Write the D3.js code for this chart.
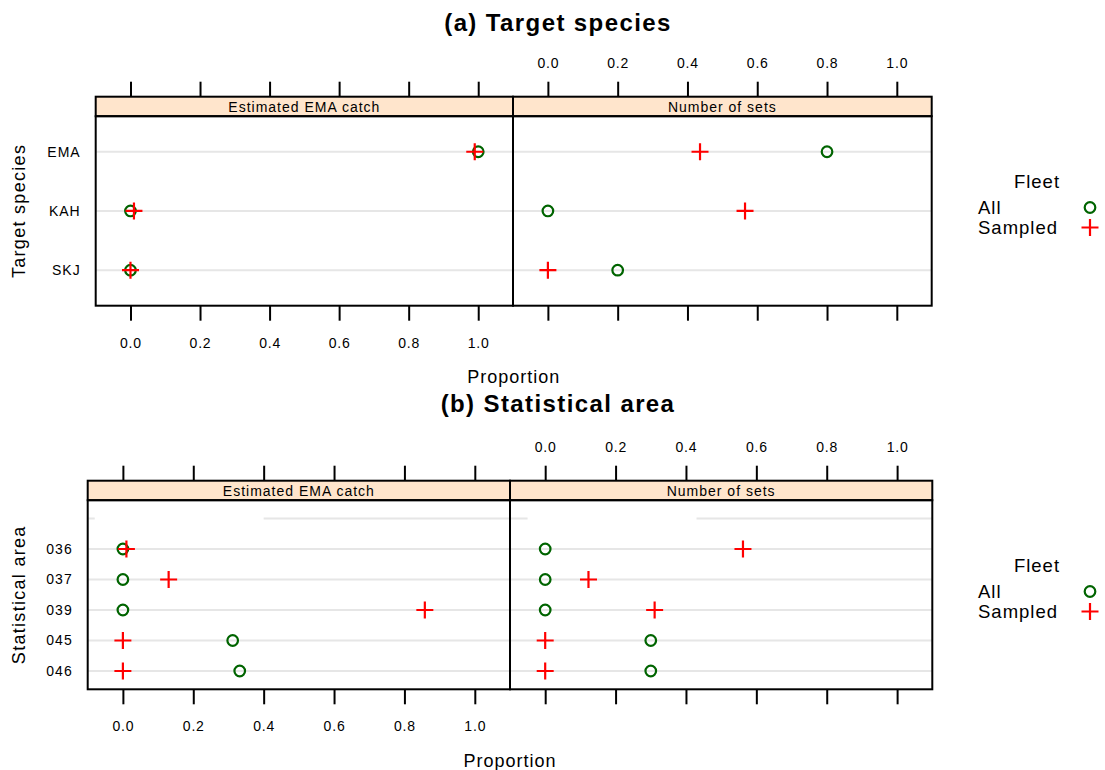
<!DOCTYPE html>
<html>
<head>
<meta charset="utf-8">
<script src="https://cdn.jsdelivr.net/npm/d3@7"></script>
<style>
  body { margin: 0; background: #fff; }
  text { font-family: "Liberation Sans", Arial, sans-serif; fill: #000; }
</style>
</head>
<body>
<svg id="chart" width="1105" height="770"></svg>
<script>
// panel names (strips)
const panels = ["Estimated EMA catch", "Number of sets"];
const xTicks = [0, 0.2, 0.4, 0.6, 0.8, 1.0];

// (a) target species, listed top to bottom
const speciesLevels = ["EMA", "KAH", "SKJ"];
const speciesAllCatch = [1.0, 0.0, 0.0];
const speciesSampledCatch = [0.99, 0.01, 0.0];
const speciesAllSets = [0.80, 0.0, 0.20];
const speciesSampledSets = [0.436, 0.565, 0.0];

// (b) statistical area, listed top to bottom ("" is an empty level)
const areaLevels = ["", "036", "037", "039", "045", "046"];
const areaAllCatch = [null, 0.0, 0.0, 0.0, 0.312, 0.332];
const areaSampledCatch = [null, 0.01, 0.13, 0.858, 0.0, 0.0];
const areaAllSets = [null, 0.0, 0.0, 0.0, 0.30, 0.30];
const areaSampledSets = [null, 0.562, 0.123, 0.311, 0.0, 0.0];
// the empty level's reference line is partly hidden in the original
const areaBlankGap = [[-0.08, 0.40], [-0.05, 0.43]];

const legendLabels = ["All", "Sampled"];

const colorAll = "#006400";
const colorSampled = "#ff0000";

var svg = d3.select("#chart");

/**
 * Small text helper: sets size and letter spacing.
 */
function styleText(sel, size, spacing) {
  return sel.style("font-size", size + "px")
    .style("letter-spacing", spacing + "px");
}

/**
 * Draws one block: title, two panels with strips, axes, legend.
 */
function drawBlock(cfg) {
  var g = svg.append("g");

  var x0 = cfg.left, x1 = cfg.mid, x2 = cfg.right;
  var stripTop = cfg.top, stripBottom = cfg.top + 19.5, bottom = cfg.bottom;

  var y = d3.scalePoint()
    .domain(cfg.levels)
    .range([stripBottom, bottom])
    .padding(0.6);

  var xs = [
    d3.scaleLinear().domain([-0.1, 1.1]).range([x0, x1]),
    d3.scaleLinear().domain([-0.1, 1.1]).range([x1, x2])
  ];

  // title
  styleText(g.append("text")
    .attr("x", cfg.titleX)
    .attr("y", cfg.titleY)
    .attr("text-anchor", "middle")
    .style("font-weight", "bold")
    .text(cfg.title), 24, 1.4);

  xs.forEach(function(x, p) {
    var pg = g.append("g");
    var clipId = "clip" + cfg.id + p;
    pg.append("clipPath").attr("id", clipId)
      .append("rect")
      .attr("x", x.range()[0]).attr("y", stripBottom)
      .attr("width", x.range()[1] - x.range()[0])
      .attr("height", bottom - stripBottom);

    var inner = pg.append("g").attr("clip-path", "url(#" + clipId + ")");

    // reference lines
    cfg.levels.forEach(function(lv) {
      var segs = [[x.range()[0], x.range()[1]]];
      if (lv === "" && cfg.gap) {
        var gp = cfg.gap[p];
        segs = [[x.range()[0], x(gp[0])], [x(gp[1]), x.range()[1]]];
      }
      segs.forEach(function(s) {
        inner.append("line")
          .attr("x1", s[0]).attr("x2", s[1])
          .attr("y1", y(lv)).attr("y2", y(lv))
          .attr("stroke", "#e6e6e6").attr("stroke-width", 2);
      });
    });

    var allVals = cfg.all[p], sampVals = cfg.sampled[p];
    var allData = cfg.levels.map(function(lv, i) { return {lv: lv, v: allVals[i]}; })
      .filter(function(d) { return d.v != null; });
    var sampData = cfg.levels.map(function(lv, i) { return {lv: lv, v: sampVals[i]}; })
      .filter(function(d) { return d.v != null; });

    inner.selectAll(".all")
      .data(allData)
      .enter().append("circle")
      .attr("class", "all")
      .attr("cx", function(d) { return x(d.v); })
      .attr("cy", function(d) { return y(d.lv); })
      .attr("r", 5.3)
      .attr("fill", "none")
      .attr("stroke", colorAll)
      .attr("stroke-width", 2.2);

    inner.selectAll(".samp")
      .data(sampData)
      .enter().append("path")
      .attr("class", "samp")
      .attr("d", function(d) {
        var cx = x(d.v), cy = y(d.lv), h = 8.5;
        return "M" + (cx - h) + "," + cy + "H" + (cx + h) + "M" + cx + "," + (cy - h) + "V" + (cy + h);
      })
      .attr("stroke", colorSampled)
      .attr("stroke-width", 2.2);

    // strip
    pg.append("rect")
      .attr("x", x.range()[0]).attr("y", stripTop)
      .attr("width", x.range()[1] - x.range()[0])
      .attr("height", stripBottom - stripTop)
      .attr("fill", "#ffe5cc")
      .attr("stroke", "#000").attr("stroke-width", 2);
    styleText(pg.append("text")
      .attr("x", (x.range()[0] + x.range()[1]) / 2)
      .attr("y", stripTop + 14.8)
      .attr("text-anchor", "middle")
      .text(panels[p]), 14, 1);

    // panel box
    pg.append("rect")
      .attr("x", x.range()[0]).attr("y", stripBottom)
      .attr("width", x.range()[1] - x.range()[0])
      .attr("height", bottom - stripBottom)
      .attr("fill", "none")
      .attr("stroke", "#000").attr("stroke-width", 2);

    // axes alternate like lattice: labels bottom for left panel, top for right
    var axTop = d3.axisTop(x).tickValues(xTicks).tickSize(15).tickPadding(14)
      .tickFormat(p === 1 ? d3.format(".1f") : "");
    var axBot = d3.axisBottom(x).tickValues(xTicks).tickSize(15).tickPadding(17)
      .tickFormat(p === 0 ? d3.format(".1f") : "");

    var gt = pg.append("g").attr("transform", "translate(0," + stripTop + ")").call(axTop);
    var gb = pg.append("g").attr("transform", "translate(0," + bottom + ")").call(axBot);
    [gt, gb].forEach(function(a) {
      a.select(".domain").remove();
      a.selectAll("line").attr("stroke", "#000").attr("stroke-width", 2);
      styleText(a.selectAll("text"), 14, 0.8)
        .style("font-family", "Liberation Sans, Arial, sans-serif");
    });
  });

  // y labels
  styleText(g.selectAll(".ylab")
    .data(cfg.levels)
    .enter().append("text")
    .attr("x", x0 - 15)
    .attr("y", function(d) { return y(d); })
    .attr("dy", "0.35em")
    .attr("text-anchor", "end")
    .text(function(d) { return d; }), 14, 1);

  // y title
  styleText(g.append("text")
    .attr("transform", "translate(" + cfg.yTitleX + "," + ((stripBottom + bottom) / 2) + ") rotate(-90)")
    .attr("text-anchor", "middle")
    .text(cfg.yTitle), 18, 1.3);

  // x title
  styleText(g.append("text")
    .attr("x", (x0 + x2) / 2)
    .attr("y", cfg.xTitleY)
    .attr("text-anchor", "middle")
    .text("Proportion"), 18, 1);

  // legend
  var lg = g.append("g");
  styleText(lg.append("text")
    .attr("x", 1037).attr("y", cfg.legendY)
    .attr("text-anchor", "middle")
    .text("Fleet"), 18.5, 1);
  legendLabels.forEach(function(lbl, i) {
    var ly = cfg.legendY + 19.5 + i * 20;
    styleText(lg.append("text")
      .attr("x", 978).attr("y", ly)
      .attr("dy", "0.35em")
      .text(lbl), 18.5, 1);
    if (i === 0) {
      lg.append("circle").attr("cx", 1090).attr("cy", ly)
        .attr("r", 5.3).attr("fill", "none")
        .attr("stroke", colorAll).attr("stroke-width", 2.2);
    } else {
      lg.append("path")
        .attr("d", "M1081.5," + ly + "H1098.5M1090," + (ly - 8.5) + "V" + (ly + 8.5))
        .attr("stroke", colorSampled).attr("stroke-width", 2.2);
    }
  });
}

drawBlock({
  id: "a",
  title: "(a) Target species",
  titleX: 558, titleY: 31,
  levels: speciesLevels,
  all: [speciesAllCatch, speciesAllSets],
  sampled: [speciesSampledCatch, speciesSampledSets],
  left: 95.7, mid: 513, right: 931.7,
  top: 96.7, bottom: 305.7,
  yTitle: "Target species", yTitleX: 24.5,
  xTitleY: 383,
  legendY: 188
});

drawBlock({
  id: "b",
  title: "(b) Statistical area",
  titleX: 558, titleY: 412,
  levels: areaLevels,
  all: [areaAllCatch, areaAllSets],
  sampled: [areaSampledCatch, areaSampledSets],
  gap: areaBlankGap,
  left: 87.7, mid: 510, right: 932.3,
  top: 480.7, bottom: 689.3,
  yTitle: "Statistical area", yTitleX: 24.5,
  xTitleY: 767,
  legendY: 572
});
</script>
</body>
</html>
